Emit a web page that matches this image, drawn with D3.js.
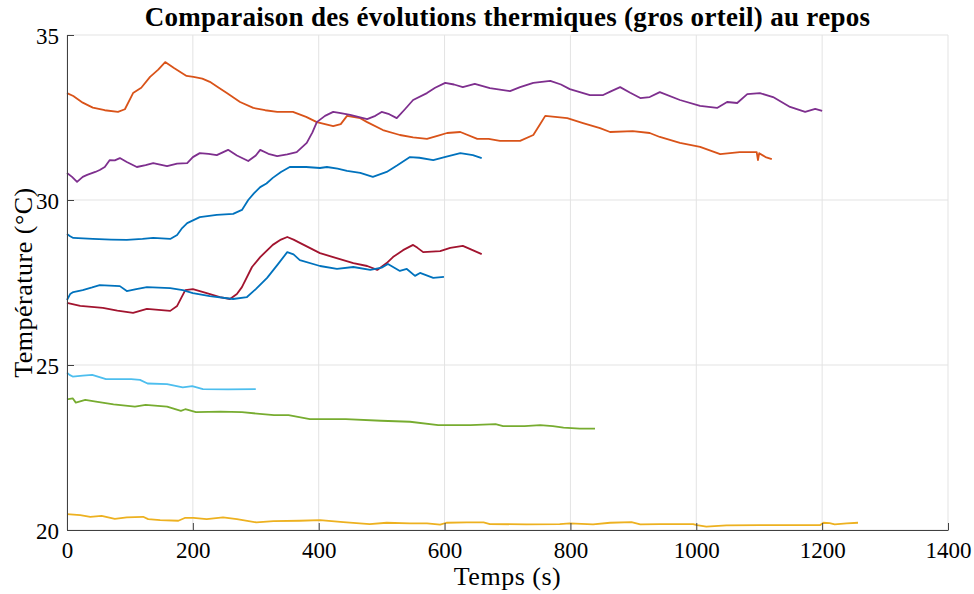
<!DOCTYPE html>
<html>
<head>
<meta charset="utf-8">
<script src="https://cdn.jsdelivr.net/npm/d3@7"></script>
<style>
  body { margin: 0; background: #fff; }
  text { font-family: "Palatino Linotype", "Book Antiqua", Palatino, "Liberation Serif", serif; fill: #000; }
</style>
</head>
<body>
<div id="plotarea"></div>
<script>
// data: [temps (s), température (°C)]
var blueTop = [[0,28.97],[5,28.9],[10,28.85],[41,28.82],[70,28.8],[95,28.79],[120,28.82],[137,28.85],[164,28.82],[175,28.94],[183,29.15],[191,29.3],[211,29.48],[238,29.55],[264,29.58],[278,29.7],[288,30.0],[297,30.2],[307,30.39],[317,30.5],[327,30.67],[340,30.85],[354,31.0],[380,31.0],[402,30.97],[413,31.0],[430,30.95],[445,30.88],[466,30.82],[486,30.7],[508,30.85],[525,31.05],[545,31.3],[560,31.28],[582,31.21],[600,31.3],[625,31.42],[645,31.36],[659,31.27]];
var orange = [[0,33.24],[10,33.15],[25,32.95],[41,32.8],[60,32.72],[81,32.67],[92,32.75],[105,33.24],[118,33.4],[132,33.73],[145,33.95],[156,34.18],[170,34.0],[190,33.76],[201,33.73],[215,33.68],[227,33.58],[240,33.42],[254,33.24],[275,32.97],[296,32.79],[315,32.72],[334,32.67],[359,32.67],[380,32.52],[397,32.36],[423,32.24],[435,32.3],[445,32.55],[466,32.48],[477,32.36],[502,32.12],[529,31.97],[550,31.9],[572,31.85],[590,31.95],[604,32.03],[625,32.06],[652,31.85],[670,31.85],[688,31.79],[720,31.79],[741,31.97],[752,32.3],[760,32.55],[795,32.48],[820,32.33],[847,32.18],[863,32.06],[899,32.09],[926,32.03],[942,31.91],[974,31.73],[1006,31.61],[1038,31.39],[1069,31.45],[1096,31.45],[1098,31.21],[1100,31.42],[1110,31.3],[1120,31.24]];
var yellow = [[0,20.48],[21,20.45],[37,20.4],[55,20.43],[76,20.34],[95,20.38],[121,20.4],[129,20.33],[148,20.3],[177,20.28],[188,20.37],[201,20.37],[222,20.33],[248,20.38],[270,20.33],[301,20.23],[328,20.27],[370,20.28],[402,20.3],[439,20.24],[481,20.18],[508,20.22],[545,20.2],[572,20.2],[593,20.16],[603,20.22],[635,20.23],[662,20.23],[672,20.18],[730,20.17],[783,20.18],[799,20.2],[836,20.17],[863,20.22],[897,20.24],[911,20.17],[942,20.18],[995,20.18],[1001,20.15],[1016,20.1],[1048,20.14],[1101,20.15],[1154,20.15],[1197,20.15],[1202,20.22],[1212,20.21],[1220,20.17],[1239,20.2],[1257,20.22]];
var purple = [[0,30.82],[8,30.7],[16,30.55],[25,30.7],[32,30.76],[45,30.85],[52,30.91],[60,31.0],[68,31.21],[76,31.2],[84,31.27],[95,31.15],[111,31.0],[125,31.06],[137,31.12],[159,31.03],[175,31.1],[191,31.12],[200,31.3],[211,31.42],[225,31.4],[238,31.36],[256,31.52],[270,31.35],[288,31.18],[300,31.35],[307,31.52],[320,31.4],[334,31.33],[350,31.38],[365,31.45],[381,31.73],[390,32.05],[397,32.36],[410,32.55],[423,32.67],[435,32.63],[450,32.58],[477,32.45],[490,32.55],[500,32.67],[512,32.6],[524,32.48],[537,32.75],[550,33.03],[572,33.24],[585,33.4],[601,33.55],[615,33.5],[629,33.42],[648,33.52],[672,33.39],[704,33.3],[720,33.42],[741,33.55],[768,33.61],[785,33.5],[799,33.36],[831,33.18],[852,33.18],[865,33.3],[879,33.42],[895,33.25],[911,33.09],[926,33.12],[942,33.27],[974,33.03],[1006,32.85],[1033,32.79],[1049,32.97],[1065,32.94],[1081,33.21],[1101,33.24],[1122,33.12],[1149,32.82],[1173,32.67],[1189,32.76],[1200,32.7]];
var green = [[0,23.96],[9,23.99],[14,23.86],[29,23.94],[46,23.89],[74,23.81],[108,23.74],[125,23.79],[159,23.74],[181,23.61],[188,23.66],[205,23.57],[244,23.59],[278,23.57],[329,23.48],[352,23.48],[386,23.36],[443,23.36],[499,23.31],[545,23.28],[590,23.18],[641,23.18],[681,23.21],[693,23.15],[727,23.15],[752,23.18],[772,23.15],[789,23.1],[815,23.07],[839,23.07]];
var lightBlue = [[0,24.77],[4,24.7],[9,24.65],[25,24.68],[40,24.7],[62,24.57],[102,24.57],[116,24.55],[128,24.44],[159,24.42],[184,24.32],[199,24.36],[216,24.27],[256,24.26],[300,24.27]];
var red = [[0,26.88],[21,26.79],[57,26.73],[80,26.65],[105,26.58],[127,26.7],[164,26.64],[175,26.79],[182,27.05],[188,27.27],[200,27.3],[222,27.18],[243,27.06],[259,27.0],[270,27.15],[278,27.36],[294,27.97],[307,28.27],[327,28.64],[340,28.8],[350,28.88],[360,28.8],[370,28.7],[402,28.39],[423,28.27],[455,28.09],[477,28.0],[493,27.88],[508,28.09],[518,28.27],[534,28.48],[550,28.64],[557,28.55],[566,28.42],[593,28.45],[609,28.55],[629,28.61],[640,28.52],[659,28.36]];
var blueLow = [[0,26.97],[5,27.15],[10,27.21],[25,27.27],[40,27.35],[52,27.42],[84,27.39],[95,27.24],[110,27.3],[127,27.36],[164,27.33],[184,27.27],[200,27.18],[227,27.09],[264,27.0],[286,27.06],[300,27.3],[318,27.64],[335,28.05],[350,28.42],[360,28.35],[370,28.18],[402,28.0],[429,27.91],[455,27.97],[482,27.88],[500,27.95],[510,28.06],[529,27.85],[540,27.91],[553,27.7],[561,27.79],[582,27.64],[599,27.67]];

var allSeries = [blueTop, orange, yellow, purple, green, lightBlue, red, blueLow];
var colors = ["#0072BD", "#D95319", "#EDB120", "#7E2F8E", "#77AC30", "#4DBEEE", "#A2142F", "#0072BD"];
var xTicks = [0, 200, 400, 600, 800, 1000, 1200, 1400];
var yTicks = [20, 25, 30, 35];

var margin = {top: 35, right: 26, bottom: 64, left: 67},
    width = 974 - margin.left - margin.right,
    height = 594 - margin.top - margin.bottom;

var svg = d3.select("#plotarea")
  .append("svg")
    .attr("width", 974)
    .attr("height", 594)
  .append("g")
    .attr("transform", "translate(" + margin.left + "," + margin.top + ")");

var x = d3.scaleLinear().domain([0, 1400]).range([0, width]);
var y = d3.scaleLinear().domain([20, 35]).range([height, 0]);

// grid
svg.append("g").selectAll("line.gx")
  .data(xTicks).enter().append("line")
    .attr("x1", function(d) { return x(d); }).attr("x2", function(d) { return x(d); })
    .attr("y1", 0).attr("y2", height)
    .style("stroke", "#e3e3e3").style("stroke-width", 1);
svg.append("g").selectAll("line.gy")
  .data(yTicks).enter().append("line")
    .attr("y1", function(d) { return y(d); }).attr("y2", function(d) { return y(d); })
    .attr("x1", 0).attr("x2", width)
    .style("stroke", "#e3e3e3").style("stroke-width", 1);

// lines
var line = d3.line()
  .x(function(d) { return x(d[0]); })
  .y(function(d) { return y(d[1]); });

svg.append("g").selectAll("path")
  .data(allSeries).enter().append("path")
    .attr("d", line)
    .style("fill", "none")
    .style("stroke", function(d, i) { return colors[i]; })
    .style("stroke-width", 1.8)
    .style("stroke-linejoin", "round");

// axes (ticks inside, MATLAB style)
var xAxis = svg.append("g")
  .attr("transform", "translate(0," + height + ")")
  .call(d3.axisBottom(x).tickValues(xTicks).tickFormat(d3.format("d")).tickSizeInner(-7).tickSizeOuter(0).tickPadding(12));
var yAxis = svg.append("g")
  .call(d3.axisLeft(y).tickValues(yTicks).tickFormat(d3.format("d")).tickSizeInner(-7).tickSizeOuter(0).tickPadding(8));

[xAxis, yAxis].forEach(function(a) {
  a.select(".domain").style("stroke", "#404040");
  a.selectAll(".tick line").style("stroke", "#404040");
  a.selectAll(".tick text")
    .style("font-size", "23px")
    .style("font-family", "\"Palatino Linotype\", \"Book Antiqua\", Palatino, \"Liberation Serif\", serif")
    .style("fill", "#000");
});
yAxis.selectAll(".tick text").attr("dy", "0.35em");

// labels
svg.append("text")
  .attr("text-anchor", "middle")
  .attr("x", width / 2)
  .attr("y", height + 55)
  .style("font-size", "26px")
  .style("letter-spacing", "0.5px")
  .text("Temps (s)");

svg.append("text")
  .attr("text-anchor", "middle")
  .attr("transform", "translate(" + (-35) + "," + (height / 2) + ") rotate(-90)")
  .style("font-size", "26px")
  .style("letter-spacing", "0.5px")
  .text("Température (°C)");

svg.append("text")
  .attr("text-anchor", "middle")
  .attr("x", width / 2)
  .attr("y", -9)
  .style("font-size", "27px")
  .style("font-weight", "bold")
  .style("letter-spacing", "0.3px")
  .text("Comparaison des évolutions thermiques (gros orteil) au repos");
</script>
</body>
</html>
